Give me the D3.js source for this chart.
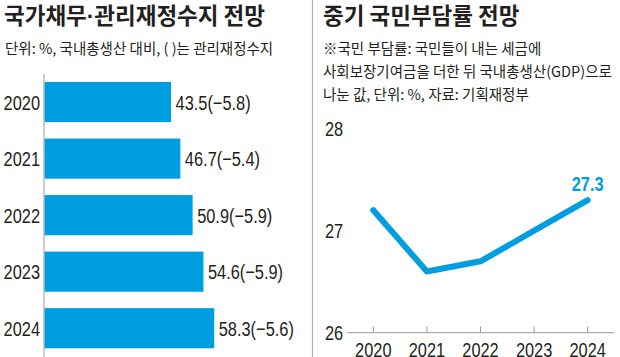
<!DOCTYPE html>
<html><head><meta charset="utf-8">
<script src="https://cdn.jsdelivr.net/npm/d3@7"></script>
<style>
body{margin:0;background:#fff;}
svg{display:block;}
.kr{font-family:"Noto Sans CJK KR","Noto Sans",sans-serif;fill:#231f20;}
.num{font-family:"Liberation Sans","Arial",sans-serif;fill:#231f20;}
</style></head>
<body>
<svg id="chart" width="620" height="357"></svg>
<script>
const debtYears = ["2020","2021","2022","2023","2024"];
const debtValues = [43.5, 46.7, 50.9, 54.6, 58.3];
const fiscalBalance = [-5.8, -5.4, -5.9, -5.9, -5.6];

const burdenYears = ["2020","2021","2022","2023","2024"];
const burdenValues = [27.2, 26.6, 26.7, 27.0, 27.3];
const burdenTicks = [26, 27, 28];

const svg = d3.select("#chart");
const BLUE = "#009ee0";
const NARROW = 0.78;
const narrowT = (x, y) => `translate(${x},${y}) scale(${NARROW},1)`;

// ---------- Left panel ----------
const t1 = svg.append("text").attr("class","kr").attr("x",4).attr("y",24)
  .attr("font-size",22.5).attr("font-weight",700);
t1.append("tspan").text("국가채무");
t1.append("tspan").style("font-family","Liberation Sans").text("·");
t1.append("tspan").text("관리재정수지 전망");
svg.append("text").attr("class","kr").attr("x",5).attr("y",54)
  .attr("font-size",14.5).attr("fill","#333").text("단위: %, 국내총생산 대비, ( )는 관리재정수지");

const xL = d3.scaleLinear().domain([0, 60]).range([44, 44 + 60*2.92]);
const yL = d3.scaleBand().domain(debtYears).range([82, 348.3]).paddingInner(0.29).paddingOuter(0);

svg.append("line").attr("x1",44).attr("x2",44).attr("y1",74).attr("y2",357)
  .attr("stroke","#aaa").attr("stroke-width",1.2);

svg.selectAll("rect.bar").data(debtValues).join("rect").attr("class","bar")
  .attr("x", xL(0) + 0.6).attr("y",(d,i)=>yL(debtYears[i]))
  .attr("width",d=>xL(d)-xL(0)-0.6).attr("height",yL.bandwidth()).attr("fill",BLUE);

svg.selectAll("text.yr").data(debtYears).join("text").attr("class","num yr")
  .attr("transform",d=>narrowT(40, yL(d)+yL.bandwidth()/2+7.5)).attr("text-anchor","end")
  .attr("font-size",21).text(d=>d);

svg.selectAll("text.val").data(debtValues).join("text").attr("class","num val")
  .attr("transform",(d,i)=>narrowT(xL(d)+4.5, yL(debtYears[i])+yL.bandwidth()/2+7.5))
  .attr("font-size",21).text((d,i)=>d.toFixed(1)+"(−"+Math.abs(fiscalBalance[i]).toFixed(1)+")");

// ---------- Divider ----------
svg.append("line").attr("x1",312.5).attr("x2",312.5).attr("y1",0).attr("y2",357)
  .attr("stroke","#b0b0b0").attr("stroke-width",1.2);

// ---------- Right panel ----------
svg.append("text").attr("class","kr").attr("x",323).attr("y",24)
  .attr("font-size",22.5).attr("font-weight",700).text("중기 국민부담률 전망");
const noteLines = ["※국민 부담률: 국민들이 내는 세금에","사회보장기여금을 더한 뒤 국내총생산(GDP)으로","나눈 값, 단위: %, 자료: 기획재정부"];
svg.selectAll("text.note").data(noteLines).join("text").attr("class","kr note")
  .attr("x",323).attr("y",(d,i)=>54+i*23).attr("font-size",14.5).attr("fill","#333").text(d=>d);

const xR = d3.scalePoint().domain(burdenYears).range([373.3, 587.7]);
const yR = d3.scaleLinear().domain([26, 28]).range([332.7, 128.7]);

// x axis
const gx = svg.append("g").attr("transform",`translate(0,${yR(26)})`);
gx.append("line").attr("x1",347).attr("x2",614).attr("y1",0).attr("y2",0)
  .attr("stroke","#999").attr("stroke-width",1);
gx.selectAll("line.tk").data(burdenYears).join("line").attr("class","tk")
  .attr("x1",d=>xR(d)).attr("x2",d=>xR(d)).attr("y1",-6).attr("y2",0)
  .attr("stroke","#999").attr("stroke-width",1);
gx.selectAll("text").data(burdenYears).join("text").attr("class","num")
  .attr("transform",d=>narrowT(xR(d), 24)).attr("text-anchor","middle").attr("font-size",21).text(d=>d);

// y labels
svg.selectAll("text.ytk").data(burdenTicks).join("text").attr("class","num ytk")
  .attr("transform",d=>narrowT(325, yR(d)+7.5)).attr("font-size",21).text(d=>d);

const line = d3.line().x((d,i)=>xR(burdenYears[i])).y(d=>yR(d));
svg.append("path").datum(burdenValues).attr("d",line).attr("fill","none")
  .attr("stroke",BLUE).attr("stroke-width",6).attr("stroke-linecap","round").attr("stroke-linejoin","round");

const last = burdenValues.length-1;
svg.append("text").attr("class","num")
  .attr("transform",narrowT(xR(burdenYears[last]), yR(burdenValues[last])-9))
  .attr("text-anchor","middle").attr("font-size",21).attr("font-weight","bold")
  .style("fill",BLUE).text(burdenValues[last].toFixed(1));
</script>
</body></html>
